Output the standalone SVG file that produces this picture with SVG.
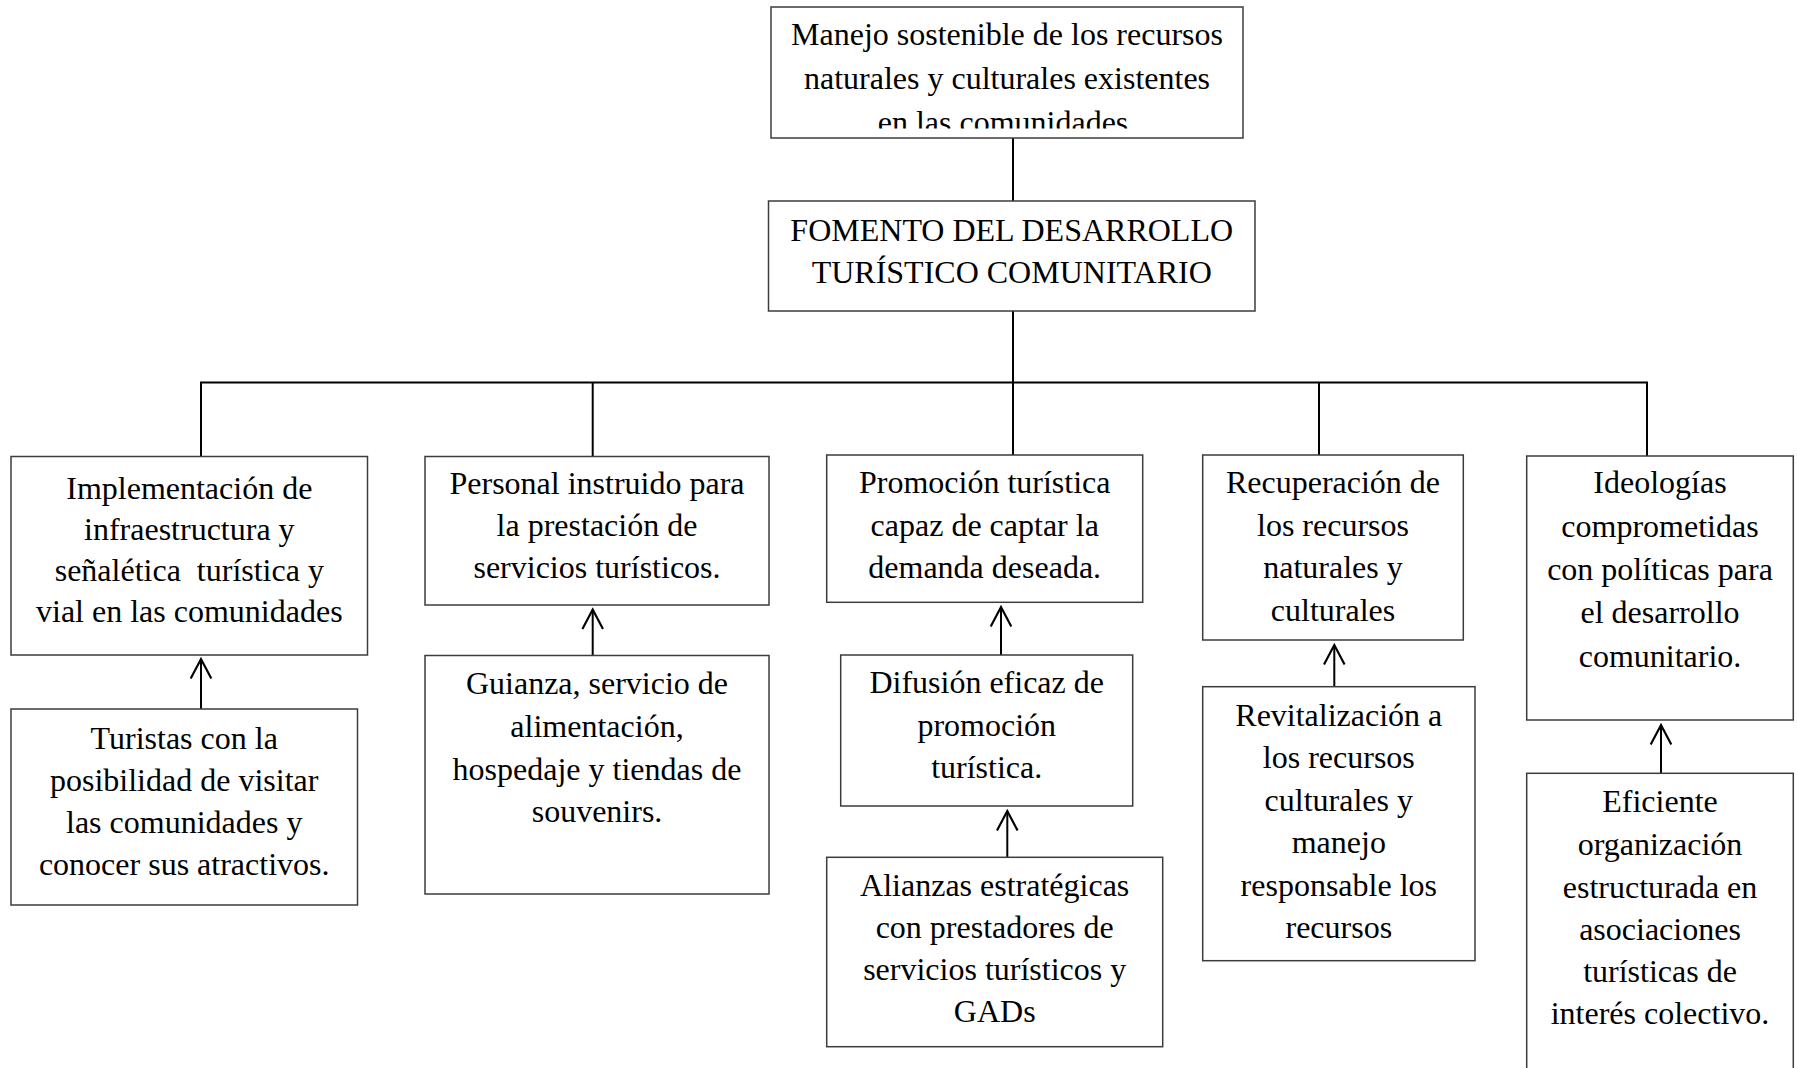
<svg xmlns="http://www.w3.org/2000/svg" width="1797" height="1068" viewBox="0 0 1797 1068">
<style>
.box{fill:#fff;stroke:#3c3c3c;stroke-width:1.5}
.t{font-family:"Liberation Serif","Times New Roman",serif;font-size:32px;fill:#000;text-anchor:middle}
.c{fill:none;stroke:#000;stroke-width:2}
.a{fill:none;stroke:#000;stroke-width:2;marker-end:url(#arr)}
</style>
<defs>
<marker id="arr" markerUnits="userSpaceOnUse" markerWidth="24" markerHeight="26" viewBox="-20 -12 22 24" refX="0" refY="0" orient="auto" overflow="visible">
<path d="M-18,-9.5 L0,0 L-18,9.5" fill="none" stroke="#000" stroke-width="2"/>
</marker>
<clipPath id="clipTop"><rect x="771" y="7" width="472" height="121.5"/></clipPath>
</defs>
<rect width="1797" height="1068" fill="#fff"/>

<g id="connectors">
<path class="c" d="M1013,138 V201"/>
<path class="c" d="M1013,311 V382.5"/>
<path class="c" d="M201,456.5 V382.5 H1647 V456"/>
<path class="c" d="M592.7,382.5 V456.5"/>
<path class="c" d="M1013,382.5 V455"/>
<path class="c" d="M1319,382.5 V455"/>
<path class="a" d="M201,709 V659"/>
<path class="a" d="M592.7,655.5 V609.5"/>
<path class="a" d="M1001,655 V607"/>
<path class="a" d="M1007.3,857.3 V811"/>
<path class="a" d="M1334.3,686.7 V645"/>
<path class="a" d="M1661,773.3 V725"/>
</g>

<g id="top">
<rect class="box" x="771" y="7" width="472" height="131"/>
<g clip-path="url(#clipTop)">
<text class="t" x="1007" y="45">Manejo sostenible de los recursos</text>
<text class="t" x="1007" y="89">naturales y culturales existentes</text>
<text class="t" x="1007" y="133">en las comunidades.</text>
</g>
</g>

<g id="fomento">
<rect class="box" x="768.5" y="201" width="486.5" height="110"/>
<text class="t" x="1011.7" y="241">FOMENTO DEL DESARROLLO</text>
<text class="t" x="1011.7" y="283">TURÍSTICO COMUNITARIO</text>
</g>

<g id="a1">
<rect class="box" x="11" y="456.5" width="356.5" height="198.5"/>
<text class="t" x="189.3" y="499">Implementación de</text>
<text class="t" x="189.3" y="540">infraestructura y</text>
<text class="t" x="189.3" y="581" xml:space="preserve">señalética  turística y</text>
<text class="t" x="189.3" y="622">vial en las comunidades</text>
</g>

<g id="a2">
<rect class="box" x="11" y="709" width="346.5" height="196"/>
<text class="t" x="184.2" y="749">Turistas con la</text>
<text class="t" x="184.2" y="791">posibilidad de visitar</text>
<text class="t" x="184.2" y="833">las comunidades y</text>
<text class="t" x="184.2" y="875">conocer sus atractivos.</text>
</g>

<g id="b1">
<rect class="box" x="425" y="456.5" width="344" height="148.5"/>
<text class="t" x="597" y="494">Personal instruido para</text>
<text class="t" x="597" y="536">la prestación de</text>
<text class="t" x="597" y="578">servicios turísticos.</text>
</g>

<g id="b2">
<rect class="box" x="425" y="655.5" width="344" height="238.5"/>
<text class="t" x="597" y="694">Guianza, servicio de</text>
<text class="t" x="597" y="737">alimentación,</text>
<text class="t" x="597" y="780">hospedaje y tiendas de</text>
<text class="t" x="597" y="822">souvenirs.</text>
</g>

<g id="c1">
<rect class="box" x="826.7" y="455" width="316" height="147.3"/>
<text class="t" x="984.7" y="493">Promoción turística</text>
<text class="t" x="984.7" y="536">capaz de captar la</text>
<text class="t" x="984.7" y="578">demanda deseada.</text>
</g>

<g id="c2">
<rect class="box" x="840.7" y="655" width="292" height="151"/>
<text class="t" x="986.7" y="693">Difusión eficaz de</text>
<text class="t" x="986.7" y="736">promoción</text>
<text class="t" x="986.7" y="778">turística.</text>
</g>

<g id="c3">
<rect class="box" x="826.7" y="857.3" width="336" height="189.4"/>
<text class="t" x="994.7" y="896">Alianzas estratégicas</text>
<text class="t" x="994.7" y="938">con prestadores de</text>
<text class="t" x="994.7" y="980">servicios turísticos y</text>
<text class="t" x="994.7" y="1022">GADs</text>
</g>

<g id="d1">
<rect class="box" x="1202.7" y="455" width="260.6" height="185"/>
<text class="t" x="1333" y="493">Recuperación de</text>
<text class="t" x="1333" y="536">los recursos</text>
<text class="t" x="1333" y="578">naturales y</text>
<text class="t" x="1333" y="621">culturales</text>
</g>

<g id="d2">
<rect class="box" x="1202.7" y="686.7" width="272.3" height="274"/>
<text class="t" x="1338.8" y="726">Revitalización a</text>
<text class="t" x="1338.8" y="768">los recursos</text>
<text class="t" x="1338.8" y="811">culturales y</text>
<text class="t" x="1338.8" y="853">manejo</text>
<text class="t" x="1338.8" y="896">responsable los</text>
<text class="t" x="1338.8" y="938">recursos</text>
</g>

<g id="e1">
<rect class="box" x="1526.7" y="456" width="266.6" height="264"/>
<text class="t" x="1660" y="493">Ideologías</text>
<text class="t" x="1660" y="537">comprometidas</text>
<text class="t" x="1660" y="580">con políticas para</text>
<text class="t" x="1660" y="623">el desarrollo</text>
<text class="t" x="1660" y="667">comunitario.</text>
</g>

<g id="e2">
<rect class="box" x="1526.7" y="773.3" width="266.6" height="310"/>
<text class="t" x="1660" y="812">Eficiente</text>
<text class="t" x="1660" y="855">organización</text>
<text class="t" x="1660" y="898">estructurada en</text>
<text class="t" x="1660" y="940">asociaciones</text>
<text class="t" x="1660" y="982">turísticas de</text>
<text class="t" x="1660" y="1024">interés colectivo.</text>
</g>
</svg>
